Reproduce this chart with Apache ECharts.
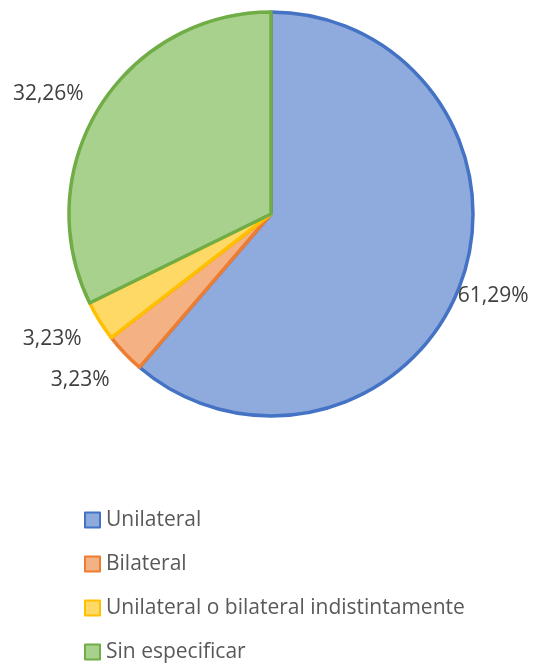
<!DOCTYPE html>
<html>
<head>
<meta charset="utf-8">
<script src="https://cdn.jsdelivr.net/npm/echarts@6/dist/echarts.min.js"></script>
<style>
html,body{margin:0;padding:0;background:#fff;}
#chart{width:534px;height:666px;}
</style>
</head>
<body>
<div id="chart"></div>
<script>
const categories = ['Unilateral', 'Bilateral', 'Unilateral o bilateral indistintamente', 'Sin especificar'];
const values = [19, 1, 1, 10];
const percentLabels = ['61,29%', '3,23%', '3,23%', '32,26%'];
const fillColors = ['#8FAADC', '#F4B183', '#FFD966', '#A9D18E'];
const borderColors = ['#4472C4', '#ED7D31', '#FFC000', '#70AD47'];

const CX = 271, CY = 214, R = 202;
const labelOffsets = [35, 51, 50, 51];
const labelAngleShift = [0, 2.5, 2.2, -3.6];

const total = values.reduce((a, b) => a + b, 0);
const FONT = '"Open Sans", Lato, sans-serif';

const chart = echarts.init(document.getElementById('chart'));
chart.setOption({
  backgroundColor: '#ffffff',
  animation: false,
  legend: {
    orient: 'vertical',
    left: 84,
    top: 508,
    height: 158,
    padding: 0,
    itemWidth: 15,
    itemHeight: 15,
    itemGap: 20,
    icon: 'rect',
    textStyle: { fontFamily: FONT, fontSize: 21, color: '#595959', lineHeight: 24, padding: [0, 0, 0, 1] },
    data: categories
  },
  series: [{
    type: 'pie',
    center: [CX, CY],
    radius: [0, R],
    startAngle: 90,
    clockwise: true,
    avoidLabelOverlap: false,
    data: categories.map((c, i) => ({
      name: c,
      value: values[i],
      itemStyle: { color: fillColors[i], borderColor: borderColors[i], borderWidth: 3.5 }
    })),
    label: {
      show: true,
      position: 'outside',
      fontFamily: FONT,
      fontSize: 21,
      color: '#404040',
      formatter: p => percentLabels[p.dataIndex]
    },
    labelLine: { show: false },
    labelLayout: function (params) {
      const i = params.dataIndex;
      let before = 0;
      for (let k = 0; k < i; k++) before += values[k];
      const mid = (before + values[i] / 2) / total * 2 * Math.PI + labelAngleShift[i] * Math.PI / 180;
      const d = R + labelOffsets[i];
      return {
        x: CX + Math.sin(mid) * d,
        y: CY - Math.cos(mid) * d,
        align: 'center',
        verticalAlign: 'middle'
      };
    }
  }]
});
</script>
</body>
</html>
